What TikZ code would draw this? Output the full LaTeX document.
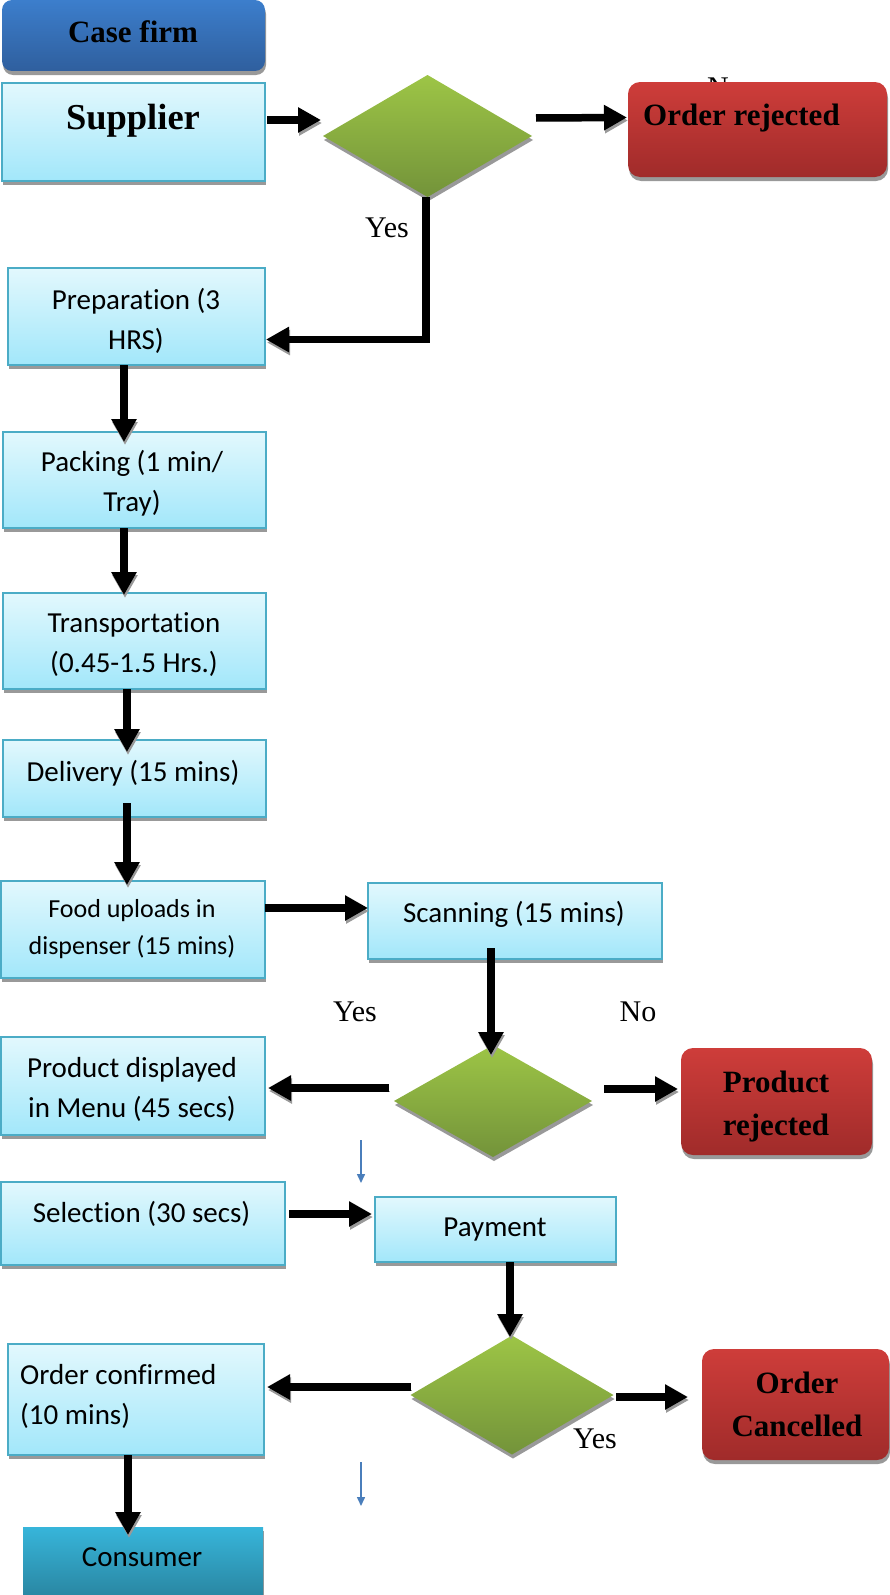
\documentclass[tikz,border=0pt]{standalone}
\usepackage{fontspec}
\setmainfont{Liberation Serif}
\newfontfamily\bodyfont[Ligatures=NoCommon,Contextuals=NoAlternate]{Carlito}
\usetikzlibrary{shapes.geometric,arrows.meta,calc,shadows}

\definecolor{procTop}{HTML}{E2F8FD}
\definecolor{procBot}{HTML}{A2E7FA}
\definecolor{procLine}{HTML}{4BACC6}
\definecolor{redTop}{HTML}{CE3D3A}
\definecolor{redBot}{HTML}{A02B2A}
\definecolor{blueTop}{HTML}{3C7ECC}
\definecolor{blueBot}{HTML}{2F5F9E}
\definecolor{greenTop}{HTML}{9DC546}
\definecolor{greenBot}{HTML}{73933A}
\definecolor{tealTop}{HTML}{37B5DA}
\definecolor{tealBot}{HTML}{2A88A4}
\definecolor{thinBlue}{HTML}{4A7EBB}

\begin{document}
\begin{tikzpicture}[x=1pt,y=-1pt,
  shadowed/.style={drop shadow={shadow xshift=1pt,shadow yshift=-4pt,fill=black!40,opacity=1}},
  box/.style={rectangle,inner sep=0pt,outer sep=0pt,shadowed},
  proc/.style={box,draw=procLine,line width=1.5pt,top color=procTop,bottom color=procBot},
  redbox/.style={box,rounded corners=12pt,top color=redTop,bottom color=redBot},
  headbox/.style={box,rounded corners=10pt,top color=blueTop,bottom color=blueBot},
  endbox/.style={box,top color=tealTop,bottom color=tealBot},
  decision/.style={diamond,inner sep=0pt,outer sep=0pt,shadowed,top color=greenTop,bottom color=greenBot},
  body/.style={inner sep=0pt,anchor=base,align=center,font=\bodyfont\fontsize{29}{40}\selectfont},
  smallbody/.style={body,font=\bodyfont\fontsize{26}{37}\selectfont},
  bold/.style={inner sep=0pt,anchor=base,align=center,font=\bfseries\fontsize{31}{42.5}\selectfont},
  lbl/.style={inner sep=0pt,anchor=base,font=\fontsize{30}{36}\selectfont},
  bigarrow/.style={line width=7.5pt,-{Triangle[length=23pt,width=24pt]},
    preaction={draw=black!40,transform canvas={shift={(1pt,-3pt)}}}},
  thinarrow/.style={draw=thinBlue,line width=1.5pt,-{Triangle[length=9pt,width=8pt]}}
]
\useasboundingbox (0,0) rectangle (890,1595);

% ---- boxes ----
\node[headbox,minimum width=263pt,minimum height=71pt] (cf) at (133.5,35.5) {};
\node[proc,minimum width=263pt,minimum height=98pt] (sup) at (133.5,132) {};
\node[decision,minimum width=209pt,minimum height=122pt] (d1) at (427.5,136) {};
\node[lbl,anchor=base west] (no1) at (707,97) {No};
\node[redbox,minimum width=259pt,minimum height=95pt] (rej1) at (757.5,129.5) {};

\node[proc,minimum width=257pt,minimum height=97pt] (prep) at (136.5,316.5) {};
\node[proc,minimum width=263pt,minimum height=96pt] (pack) at (134.5,480) {};
\node[proc,minimum width=263pt,minimum height=96pt] (trans) at (134.5,641) {};
\node[proc,minimum width=263pt,minimum height=77pt] (deliv) at (134.5,778.5) {};
\node[proc,minimum width=264pt,minimum height=97pt] (food) at (133,929.5) {};
\node[proc,minimum width=294pt,minimum height=76pt] (scan) at (515,921) {};

\node[decision,minimum width=198pt,minimum height=112pt] (d2) at (493,1101) {};
\node[proc,minimum width=264pt,minimum height=98pt] (disp) at (133,1086) {};
\node[redbox,minimum width=191pt,minimum height=107pt] (rej2) at (776.5,1101.5) {};

\node[proc,minimum width=284pt,minimum height=83pt] (sel) at (143,1223.5) {};
\node[proc,minimum width=241pt,minimum height=65pt] (pay) at (495.5,1229.5) {};

\node[decision,minimum width=203pt,minimum height=119pt] (d3) at (512,1395) {};
\node[proc,minimum width=256pt,minimum height=111pt] (conf) at (136,1399.5) {};
\node[redbox,minimum width=187pt,minimum height=111pt] (canc) at (795.5,1404.5) {};
\node[endbox,minimum width=240pt,minimum height=67pt] (cons) at (143,1560.5) {};

% ---- texts (two-line texts are placed by the baseline of their last line) ----
\node[bold] (cft) at (133,43) {Case firm};
\node[bold,font=\bfseries\fontsize{36.5}{42}\selectfont] (supt) at (133,129) {Supplier};
\node[bold,anchor=base west] (rej1t) at (643,125) {Order rejected};
\node[lbl] (yes1) at (387,237) {Yes};

\node[body] (prept) at (136,349) {Preparation (3\\HRS)};
\node[body] (packt) at (132,511) {Packing (1 min/\\Tray)};
\node[body] (transt) at (134,672) {Transportation\\(0.45-1.5 Hrs.)};
\node[body] (delivt) at (133,781) {Delivery (15 mins)};
\node[smallbody] (foodt) at (132,954) {Food uploads in\\dispenser (15 mins)};
\node[body] (scant) at (514,922) {Scanning (15 mins)};

\node[lbl] (yes2) at (355,1021) {Yes};
\node[lbl] (no2) at (638,1021) {No};
\node[body] (dispt) at (132,1117) {Product displayed\\in Menu (45 secs)};
\node[bold] (rej2t) at (776,1135) {Product\\rejected};

\node[body] (selt) at (141.5,1222) {Selection (30 secs)};
\node[body] (payt) at (495,1236) {Payment};

\node[body,align=left,anchor=base west] (conft) at (20,1424) {Order confirmed\\(10 mins)};
\node[bold] (canct) at (797,1436) {Order\\Cancelled};
\node[lbl] (yes3) at (595,1448) {Yes};
\node[body] (const) at (142,1566) {Consumer};

% ---- connectors ----
\draw[bigarrow] ($(sup.east)+(2,-12)$) -- ($(d1.west)+(-2,-16)$);
\draw[bigarrow] ($(d1.east)+(4,-18)$) -- ($(rej1.west)+(-1,-12)$);
\draw[bigarrow] ($(d1.south)+(-1.5,0)$) |- ($(prep.east)+(1,23)$);
\draw[bigarrow] ($(prep.south)+(-12.5,0)$) -- ($(pack.north)+(-10.5,10)$);
\draw[bigarrow] ($(pack.south)+(-10.5,0)$) -- ($(trans.north)+(-10.5,2)$);
\draw[bigarrow] ($(trans.south)+(-7.5,0)$) -- ($(deliv.north)+(-7.5,12)$);
\draw[bigarrow] ($(deliv.south)+(-7.5,-14)$) -- ($(food.north)+(-6,4)$);
\draw[bigarrow] ($(food.east)+(0,-21.5)$) -- ($(scan.west)+(0,-13)$);
\draw[bigarrow] ($(scan.south)+(-24,-11)$) -- ($(d2.north)+(-2,10)$);
\draw[bigarrow] ($(d2.west)+(-5,-13)$) -- ($(disp.east)+(3,2)$);
\draw[bigarrow] ($(d2.east)+(12,-12)$) -- ($(rej2.west)+(-3,-12.5)$);
\draw[bigarrow] ($(sel.east)+(4,-9.5)$) -- ($(pay.west)+(-3,-15.5)$);
\draw[bigarrow] ($(pay.south)+(14.5,0)$) -- ($(d3.north)+(-2,1.5)$);
\draw[bigarrow] ($(d3.west)+(0,-8)$) -- ($(conf.east)+(3,-12.5)$);
\draw[bigarrow] ($(d3.east)+(2.5,2)$) -- ($(canc.west)+(-14,-7.5)$);
\draw[bigarrow] ($(conf.south)+(-8,0)$) -- ($(cons.north)+(-15,8)$);

% ---- small blue pointers ----
\coordinate (p1s) at (361,1140);
\coordinate (p1e) at (361,1183);
\coordinate (p2s) at (361,1462);
\coordinate (p2e) at (361,1506);
\draw[thinarrow] (p1s) -- (p1e);
\draw[thinarrow] (p2s) -- (p2e);
\end{tikzpicture}
\end{document}
